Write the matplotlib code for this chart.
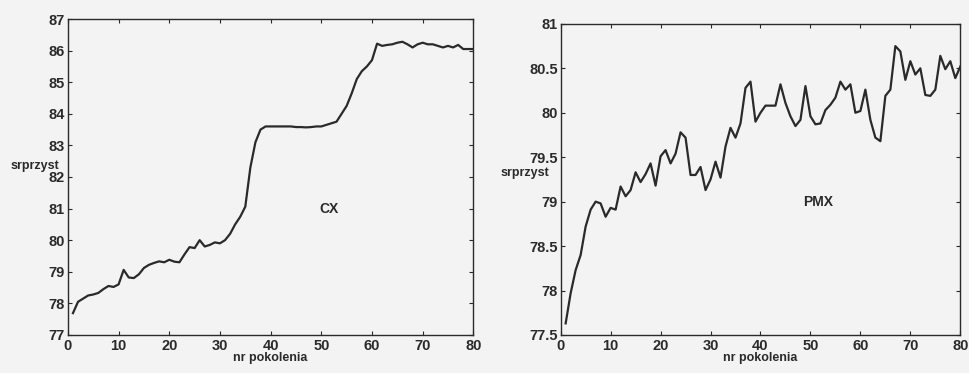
import numpy as np
import matplotlib
matplotlib.use("Agg")
import matplotlib.pyplot as plt

plt.rcParams['font.family'] = ['Liberation Sans', 'DejaVu Sans']

# nr pokolenia
gen = np.arange(1, 81)

# srednie przystosowanie - krzyzowanie CX
cx = [77.69, 78.05, 78.15, 78.25, 78.28, 78.33, 78.45, 78.55, 78.52, 78.60,
      79.06, 78.82, 78.80, 78.92, 79.12, 79.22, 79.28, 79.33, 79.30, 79.38,
      79.32, 79.30, 79.55, 79.78, 79.75, 80.00, 79.80, 79.85, 79.93, 79.90,
      80.00, 80.20, 80.50, 80.74, 81.06, 82.30, 83.10, 83.50, 83.60, 83.60,
      83.60, 83.60, 83.60, 83.60, 83.58, 83.58, 83.57, 83.58, 83.60, 83.60,
      83.65, 83.70, 83.75, 84.00, 84.25, 84.65, 85.10, 85.35, 85.50, 85.70,
      86.22, 86.15, 86.18, 86.20, 86.25, 86.28, 86.20, 86.10, 86.20, 86.25,
      86.20, 86.20, 86.15, 86.10, 86.15, 86.10, 86.18, 86.05, 86.05, 86.05]

# srednie przystosowanie - krzyzowanie PMX
pmx = [77.63, 77.97, 78.23, 78.40, 78.72, 78.91, 79.00, 78.98, 78.83, 78.93,
       78.91, 79.17, 79.06, 79.13, 79.33, 79.22, 79.31, 79.43, 79.18, 79.51,
       79.58, 79.43, 79.54, 79.78, 79.72, 79.30, 79.30, 79.39, 79.13, 79.25,
       79.45, 79.27, 79.62, 79.83, 79.72, 79.88, 80.28, 80.35, 79.90, 80.00,
       80.08, 80.08, 80.08, 80.32, 80.11, 79.96, 79.85, 79.92, 80.30, 79.96,
       79.87, 79.88, 80.03, 80.09, 80.17, 80.35, 80.26, 80.32, 80.00, 80.02,
       80.26, 79.92, 79.72, 79.68, 80.19, 80.26, 80.75, 80.69, 80.37, 80.58,
       80.43, 80.50, 80.20, 80.19, 80.26, 80.64, 80.49, 80.58, 80.39, 80.52]

cx_yticks = [77, 78, 79, 80, 81, 82, 83, 84, 85, 86, 87]
pmx_yticks = [77.5, 78, 78.5, 79, 79.5, 80, 80.5, 81]
pmx_ylabels = ["77.5", "78", "78.5", "79", "79.5", "80", "80.5", "81"]
xticks = [0, 10, 20, 30, 40, 50, 60, 70, 80]

bg = '#f3f3f3'
ink = '#2a2a2a'

fig = plt.figure(figsize=(9.7, 3.73), dpi=100, facecolor=bg)
ax1 = fig.add_axes([0.070, 0.102, 0.418, 0.847])
ax2 = fig.add_axes([0.578, 0.102, 0.412, 0.834])

def style(ax):
    ax.set_facecolor(bg)
    ax.set_xlim(0, 80)
    ax.set_xticks(xticks)
    ax.tick_params(direction='in', length=3, width=0.8, pad=2,
                   top=True, right=True, labelsize=10.5, colors=ink)
    ax.tick_params(axis='x', pad=3)
    for lab in ax.get_xticklabels() + ax.get_yticklabels():
        lab.set_fontweight('bold')
    for s in ax.spines.values():
        s.set_color(ink)
        s.set_linewidth(1.0)
    ax.set_xlabel("nr pokolenia", fontsize=9, fontweight='bold',
                  color=ink, labelpad=-1)

# lewy wykres - CX
ax1.plot(gen, cx, color=ink, lw=1.6)
ax1.set_ylim(77, 87)
ax1.set_yticks(cx_yticks)
style(ax1)
ax1.text(51.5, 81.0, "CX", fontsize=10, fontweight='bold', color=ink,
         ha='center', va='center')
fig.text(0.036, 0.555, "srprzyst", fontsize=9, fontweight='bold',
         color=ink, ha='center', va='center')

# prawy wykres - PMX
ax2.plot(gen, pmx, color=ink, lw=1.6)
ax2.set_ylim(77.5, 81)
ax2.set_yticks(pmx_yticks)
ax2.set_yticklabels(pmx_ylabels)
style(ax2)
ax2.text(51.6, 79.0, "PMX", fontsize=10, fontweight='bold', color=ink,
         ha='center', va='center')
fig.text(0.541, 0.535, "srprzyst", fontsize=9, fontweight='bold',
         color=ink, ha='center', va='center')

fig.savefig("out.png", dpi=100, facecolor=bg)
